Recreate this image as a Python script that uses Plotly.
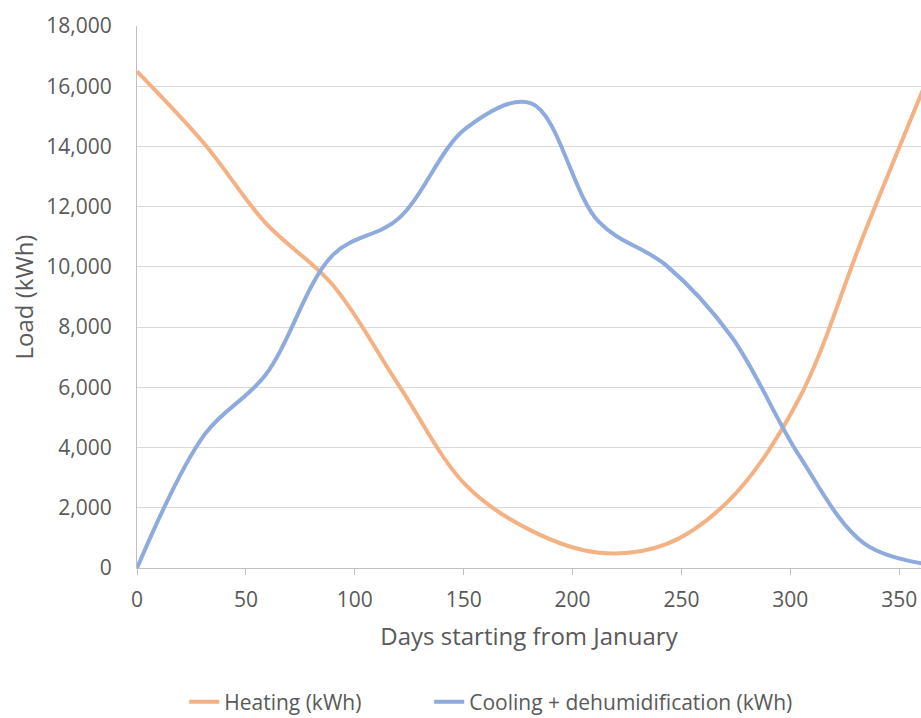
import plotly.graph_objects as go

# Monthly values (day of year at the start of each month)
days = [0, 31, 59, 90, 120, 151, 181, 212, 243, 273, 304, 334, 365]
heating_kwh = [16490, 14080, 11460, 9390, 6090, 2750, 1240, 510, 790, 2330, 5620, 11120, 16600]
cooling_kwh = [0, 4430, 6410, 10400, 11600, 14600, 15430, 11500, 10050, 7680, 3740, 810, 100]

x_ticks = [0, 50, 100, 150, 200, 250, 300, 350]
y_ticks = [0, 2000, 4000, 6000, 8000, 10000, 12000, 14000, 16000, 18000]

series_names = ["Heating (kWh)", "Cooling + dehumidification (kWh)"]
x_title = "Days starting from January"
y_title = "Load (kWh)"

TXT = "#595959"

fig = go.Figure()
fig.add_trace(go.Scatter(
    x=days, y=heating_kwh, mode="lines", name=series_names[0], legend="legend",
    line=dict(color="#F4B183", width=4, shape="spline", smoothing=1.0),
))
fig.add_trace(go.Scatter(
    x=days, y=cooling_kwh, mode="lines", name=series_names[1], legend="legend2",
    line=dict(color="#8FAADC", width=4, shape="spline", smoothing=1.0),
))

legend_common = dict(
    orientation="h", xref="container", yref="container",
    xanchor="left", y=0.022, yanchor="middle",
    font=dict(size=21, color=TXT), itemwidth=30, bgcolor="rgba(0,0,0,0)",
)

fig.update_layout(
    width=921, height=718,
    margin=dict(l=137, r=0, t=26, b=150),
    paper_bgcolor="white", plot_bgcolor="white",
    font=dict(family="Open Sans", size=21, color=TXT),
    showlegend=True,
    legend=dict(x=0.2, **legend_common),
    legend2=dict(x=0.466, **legend_common),
    xaxis=dict(
        range=[0, 360], tickvals=x_ticks, showgrid=False, zeroline=False,
        showline=True, linecolor="#BFBFBF", linewidth=1,
        ticks="outside", ticklen=6, tickcolor="#BFBFBF", tickwidth=1,
        ticklabelstandoff=7,
        tickfont=dict(size=21, color=TXT),
        title=dict(text=x_title, standoff=15, font=dict(size=24, color=TXT)),
    ),
    yaxis=dict(
        range=[0, 18000], tickvals=y_ticks, tickformat=",", showgrid=True,
        gridcolor="#D9D9D9", gridwidth=1, zeroline=False,
        showline=True, linecolor="#BFBFBF", linewidth=1, ticks="",
        ticklabelstandoff=20,
        tickfont=dict(size=21, color=TXT),
        title=dict(text=y_title, standoff=5, font=dict(size=24, color=TXT)),
    ),
)

fig.write_html("out.html", config={"displayModeBar": False})
